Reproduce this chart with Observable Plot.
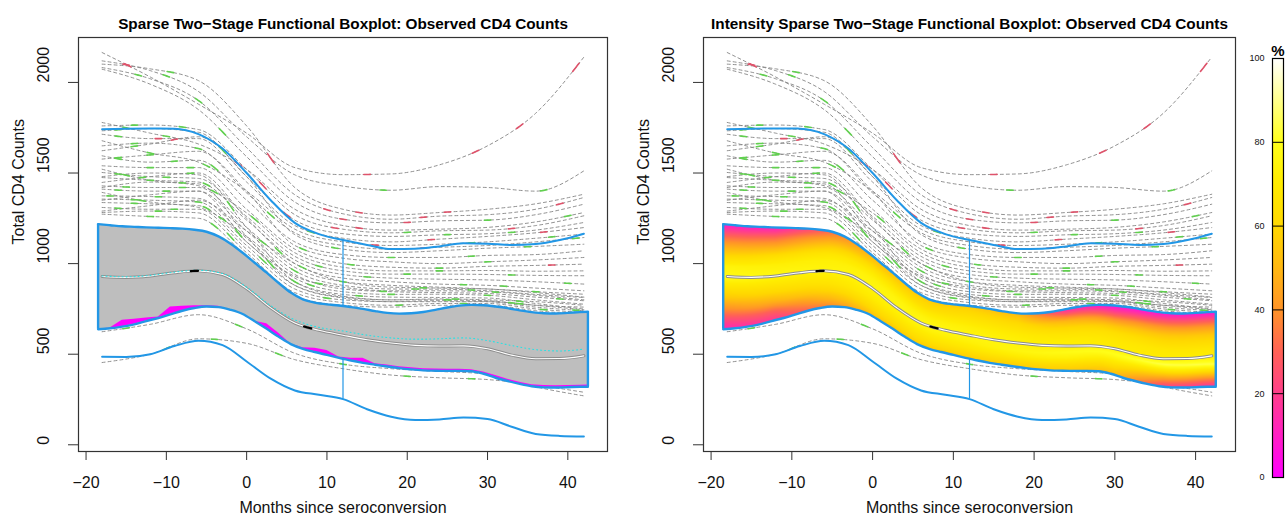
<!DOCTYPE html>
<html><head><meta charset="utf-8">
<script src="https://cdn.jsdelivr.net/npm/d3@7"></script>
<script src="https://cdn.jsdelivr.net/npm/@observablehq/plot@0.6"></script>
<style>
body{margin:0;background:#fff;}
#wrap{position:relative;width:1287px;height:519px;overflow:hidden;}
#wrap > div{position:absolute;top:0;}
</style></head><body>
<div id="wrap"><div id="p1" style="left:0px"></div><div id="p2" style="left:640px"></div><div id="p3" style="left:1240px"></div></div>
<script>
// ---------- text & ticks ----------
const titles = ["Sparse Two\u2212Stage Functional Boxplot: Observed CD4 Counts",
                "Intensity Sparse Two\u2212Stage Functional Boxplot: Observed CD4 Counts"];
const xLabel = "Months since seroconversion";
const yLabel = "Total CD4 Counts";
const xTicks = [-20, -10, 0, 10, 20, 30, 40];
const yTicks = [0, 500, 1000, 1500, 2000];
const legendTicks = [0, 20, 40, 60, 80, 100];
const legendBreaks = [20, 40, 60, 80];
const xDomain = [-20.94, 44.94];
const yDomain = [-37, 2248];

// ---------- central region (box) ----------
const boxX = [-18.5,-17,-15.5,-14,-12.5,-11,-9.5,-8,-6.5,-5,-3.5,-2,-0.5,1,2.5,4,5.5,7,8.5,10,11.5,13,14.5,16,17.5,19,20.5,22,23.5,25,26.5,28,29.5,31,32.5,34,35.5,37,38.5,40,41.5,42.5];
const boxLow = [638,643,652,665,683,700,720,740,755,763,760,745,722,682,640,596,556,530,512,496,480,465,452,442,432,423,416,411,409,408,408,406,392,370,352,336,323,317,316,318,320,320];
const boxHigh = [1218,1212,1206,1203,1200,1198,1196,1193,1187,1176,1150,1110,1060,1005,950,893,840,803,785,775,769,760,750,738,728,724,726,733,745,758,768,772,770,763,754,742,732,726,725,728,732,734];
const magentaTop = [638,645,688,693,700,706,760,765,767,768,765,745,722,682,668,615,556,535,533,520,485,478,478,447,440,431,425,420,418,417,417,414,402,382,362,345,332,327,326,327,329,330];

// ---------- whiskers, median, mean ----------
const wX = [-18,-15,-12,-9,-6,-3,0,3,6,9,12,15,18,21,24,27,30,33,36,39,42];
const upperWhisker = [1742,1745,1746,1745,1715,1635,1500,1350,1225,1163,1130,1103,1080,1082,1095,1112,1110,1103,1108,1130,1165];
const lowerWhisker = [486,485,500,545,574,550,460,365,300,276,252,196,155,137,140,150,142,100,60,49,46];
const medianCurve = [929,924,932,950,960,940,862,756,672,632,605,580,562,549,545,546,530,495,475,476,491];
const meanCurve = [932,927,935,953,963,945,870,768,690,648,628,605,590,583,585,590,575,548,525,518,528];
const medianObs = [-6.5, 7.6];
const connectorX = 12;

// ---------- individual fitted curves ----------
const cX = [-18,-12,-6,0,6,12,18,24,30,36,42];
const curveVals = [
 [2165,2030,1880,1720,1530,1491,1495,1545,1650,1830,2140],
 [2119,2065,1950,1700,1490,1428,1405,1425,1420,1400,1512],
 [2101,2075,2010,1760,1420,1300,1268,1282,1300,1330,1383],
 [2082,2020,1900,1640,1380,1275,1245,1262,1270,1300,1365],
 [2073,1990,1850,1590,1340,1245,1225,1236,1240,1270,1328],
 [1779,1720,1660,1520,1300,1210,1185,1190,1200,1230,1282],
 [1760,1765,1740,1520,1270,1190,1170,1181,1185,1210,1264],
 [1733,1745,1725,1480,1240,1165,1150,1159,1165,1185,1227],
 [1714,1690,1690,1450,1210,1140,1120,1135,1150,1170,1199],
 [1678,1610,1560,1400,1190,1120,1100,1107,1120,1140,1163],
 [1650,1665,1635,1390,1170,1100,1080,1090,1100,1120,1144],
 [1623,1660,1700,1480,1160,1080,1061,1071,1085,1095,1107],
 [1595,1560,1570,1350,1120,1050,1034,1034,1045,1050,1071],
 [1577,1600,1620,1400,1100,1030,1010,1000,1010,1020,1034],
 [1540,1530,1530,1300,1080,1000,980,975,985,990,997],
 [1521,1460,1430,1280,1060,980,960,960,962,958,960],
 [1503,1480,1470,1260,1040,960,942,942,940,935,933],
 [1475,1460,1450,1240,1020,940,920,914,910,900,887],
 [1448,1480,1500,1250,1000,920,900,887,880,865,850],
 [1429,1420,1420,1200,980,900,880,870,860,845,831],
 [1411,1400,1400,1180,960,880,860,859,850,830,813],
 [1393,1340,1310,1150,940,860,845,840,835,815,795],
 [1374,1370,1360,1140,920,845,830,831,825,800,776],
 [1356,1350,1340,1120,900,830,815,813,810,780,749],
 [1337,1330,1320,1100,880,815,800,800,795,770,760],
 [1310,1300,1300,1080,860,800,790,795,790,760,740],
 [1282,1290,1280,1060,840,785,770,780,780,750,730],
 [1273,1260,1250,1040,820,770,760,770,770,740,720],
 [624,665,718,640,505,445,420,405,390,320,270],
 [454,500,585,560,470,420,385,370,360,330,290],
 [1480,1500,1490,1200,900,820,800,805,800,790,770],
 [1420,1450,1440,1150,880,810,790,790,790,770,745],
 [1350,1380,1400,1120,930,870,850,850,845,825,800],
 [1290,1320,1350,1180,1000,900,870,865,860,840,815]
];
// observed portions: [curve index, month, colour key]
const obs = [
 [0,-14.8,"r"],[0,15,"r"],[0,28.5,"r"],[0,34,"r"],[0,41,"r"],
 [1,-15,"r"],[1,-10,"g"],[1,17,"g"],[1,37,"g"],
 [2,-9.5,"g"],[2,3,"r"],[2,14,"r"],[2,25,"r"],
 [3,-13.5,"g"],[3,-6,"g"],[3,10,"r"],[3,22,"r"],[3,39,"r"],
 [4,-3,"g"],[4,12,"r"],[4,20,"r"],[4,30,"g"],
 [5,-15,"g"],[5,-10,"g"],[5,-1,"r"],[5,14,"r"],[5,40,"g"],
 [6,-14,"g"],[6,-8,"g"],[6,2,"r"],[6,11,"r"],[6,20,"g"],[6,33,"r"],
 [7,-16,"g"],[7,-3,"g"],[7,5,"r"],[7,25,"g"],[7,33,"g"],
 [8,-16,"g"],[8,-11,"r"],[8,8,"g"],[8,23,"r"],[8,37,"r"],
 [9,-12,"g"],[9,-5,"g"],[9,16,"r"],[9,28,"g"],[9,38,"g"],
 [10,-14,"g"],[10,-6,"g"],[10,3,"g"],[10,22,"r"],[10,41,"g"],
 [11,-14,"g"],[11,-9,"r"],[11,11,"g"],[11,35,"g"],
 [12,-16,"g"],[12,-9,"g"],[12,-4,"g"],[12,18,"g"],[12,28,"g"],
 [13,-16,"g"],[13,-12,"g"],[13,7,"g"],[13,30,"g"],
 [14,-12,"g"],[14,-7,"g"],[14,13,"g"],[14,24,"g"],[14,38,"r"],
 [15,-15,"g"],[15,-4,"g"],[15,1,"g"],[15,24,"g"],
 [16,-16,"g"],[16,-10,"g"],[16,9,"g"],[16,20,"g"],[16,33,"g"],
 [17,-12,"g"],[17,-5,"g"],[17,15,"g"],[17,40,"g"],
 [18,-13,"g"],[18,-7,"g"],[18,4,"g"],[18,27,"g"],[18,32,"g"],
 [19,-15,"g"],[19,-8,"g"],[19,12,"g"],[19,36,"g"],
 [20,-16,"g"],[20,-10,"g"],[20,6,"g"],[20,21,"g"],[20,28,"g"],
 [21,-13,"g"],[21,-3,"g"],[21,17,"g"],[21,39,"g"],
 [22,-17,"g"],[22,-11,"g"],[22,8,"g"],[22,18,"g"],[22,30,"g"],
 [23,-14,"g"],[23,-6,"g"],[23,14,"g"],[23,34,"g"],
 [24,-14,"g"],[24,-5,"g"],[24,2,"g"],[24,25,"g"],[24,33,"g"],
 [25,-16,"g"],[25,-9,"g"],[25,10,"g"],[25,41,"g"],
 [26,-11,"g"],[26,-2,"g"],[26,19,"g"],[26,27,"g"],[26,37,"g"],
 [27,-12,"g"],[27,-4,"g"],[27,5,"g"],[27,29,"g"],
 [28,-15,"g"],[28,-1,"g"],[28,12,"g"],[28,35,"g"],
 [29,-10,"g"],[29,-4,"g"],[29,4,"g"],[29,20,"g"],[29,28,"g"],
 [30,-2,"g"],[30,6,"g"],[30,26,"g"],
 [31,-8,"g"],[31,3,"g"],[31,34,"g"],
 [32,-1,"g"],[32,9,"g"],[32,31,"g"],
 [33,2,"g"],[33,7,"g"],[33,22,"g"]
];

// ---------- intensity (percent) inside the central region ----------
const intX = [-18.5,-12,-6,0,6,12,18,24,30,36,42.5];
const intT = [0,0.1,0.2,0.3,0.4,0.5,0.6,0.7,0.8,0.9,1];
const intensity = [
 [12,18,35,52,55,55,55,55,50,20,15],
 [25,30,48,60,62,62,62,62,60,40,35],
 [40,48,58,65,66,68,70,72,70,62,60],
 [55,60,65,70,70,72,75,78,80,84,84],
 [66,68,70,72,74,75,74,72,70,70,72],
 [78,76,74,75,76,74,72,70,68,68,68],
 [74,72,72,74,74,72,70,66,64,62,62],
 [60,62,66,70,70,68,66,60,55,55,55],
 [45,46,55,64,64,64,62,50,40,42,42],
 [28,30,42,56,60,60,56,32,22,25,25],
 [8,10,28,50,55,55,50,12,4,6,4]
];
const intensityDomain = [0,10,20,30,40,50,60,70,80,90,100];
const intensityRange = ["#FF00FF","#FF1FC4","#FF3F8C","#FF6256","#FF9428","#FFB812","#FFD800","#FFEC00","#FFFF1A","#FFFF8C","#FFFFFF"];

// ---------- colours ----------
const blue = "#2297E6", green = "#61D04F", red = "#DF536B", cyan = "#28E2E5";
const font = "'Liberation Sans', Arial, Helvetica, sans-serif";

// ---------- monotone-x evaluation (same as d3.curveMonotoneX) ----------
function tangents(xs, ys) {
  const n = xs.length, t = new Array(n);
  for (let i = 1; i < n - 1; i++) {
    const h0 = xs[i]-xs[i-1], h1 = xs[i+1]-xs[i];
    const s0 = (ys[i]-ys[i-1])/h0, s1 = (ys[i+1]-ys[i])/h1;
    const p = (s0*h1 + s1*h0)/(h0+h1);
    t[i] = ((s0<0?-1:1)+(s1<0?-1:1)) * Math.min(Math.abs(s0), Math.abs(s1), 0.5*Math.abs(p)) || 0;
  }
  t[0] = (3*(ys[1]-ys[0])/(xs[1]-xs[0]) - t[1])/2;
  t[n-1] = (3*(ys[n-1]-ys[n-2])/(xs[n-1]-xs[n-2]) - t[n-2])/2;
  return t;
}
function evaluator(xs, ys) {
  const t = tangents(xs, ys);
  return x => {
    let i = d3.bisectRight(xs, x) - 1;
    i = Math.max(0, Math.min(xs.length - 2, i));
    const h = xs[i+1]-xs[i], s = (x - xs[i])/h, u = 1 - s;
    const c1 = ys[i] + h/3*t[i], c2 = ys[i+1] - h/3*t[i+1];
    return u*u*u*ys[i] + 3*u*u*s*c1 + 3*u*s*s*c2 + s*s*s*ys[i+1];
  };
}
const evLow = evaluator(boxX, boxLow), evHigh = evaluator(boxX, boxHigh);
const evUpW = evaluator(wX, upperWhisker), evLoW = evaluator(wX, lowerWhisker);
const evMed = evaluator(wX, medianCurve);
const evCurves = curveVals.map(v => evaluator(cX, v));

// ---------- table rows built from the arrays ----------
const curveRows = curveVals.flatMap((v, id) => v.map((y, i) => ({id, x: cX[i], y})));
const obsRows = [];
obs.forEach(([ci, t, c], k) => {
  for (let j = 0; j <= 4; j++) { const x = t - 0.4 + j*0.2; obsRows.push({k, c, x, y: evCurves[ci](x)}); }
});
const boxRows = boxX.map((x, i) => ({x, lo: boxLow[i], hi: boxHigh[i], mag: magentaTop[i]}));
const wRows = wX.map((x, i) => ({x, up: upperWhisker[i], lo: lowerWhisker[i], med: medianCurve[i], mean: meanCurve[i]}));
const medObsRows = [];
medianObs.forEach((t, k) => { for (let j = 0; j <= 4; j++) { const x = t - 0.45 + j*0.225; medObsRows.push({k, x, y: evMed(x)}); } });
const sideRows = [0, boxX.length - 1].map(i => ({x: boxX[i], lo: boxLow[i], hi: boxHigh[i]}));
const connRows = [
  {x: connectorX, a: evHigh(connectorX), b: evUpW(connectorX)},
  {x: connectorX, a: evLoW(connectorX), b: evLow(connectorX)}
];

const cache = new Map();
function intensityAt(x, y) {
  if (x < boxX[0] || x > boxX[boxX.length-1]) return NaN;
  let b = cache.get(x);
  if (!b) { b = [evLow(x), evHigh(x)]; cache.set(x, b); }
  if (y < b[0] || y > b[1]) return NaN;
  const tt = (y - b[0])/(b[1]-b[0]);
  let j = d3.bisectRight(intX, x) - 1; j = Math.max(0, Math.min(intX.length-2, j));
  const fx = (x - intX[j])/(intX[j+1]-intX[j]);
  let k = Math.floor(tt*10); k = Math.max(0, Math.min(9, k));
  const fy = (tt - intT[k])/(intT[k+1]-intT[k]);
  const a = intensity[k][j]*(1-fx) + intensity[k][j+1]*fx;
  const c = intensity[k+1][j]*(1-fx) + intensity[k+1][j+1]*fx;
  return a*(1-fy) + c*fy;
}
const colorScale = {type: "linear", domain: intensityDomain, range: intensityRange, interpolate: "rgb"};
const fmt = d => d < 0 ? "\u2212" + Math.abs(d) : String(d);

function panel(isIntensity, width, mL, mR, title) {
  const marks = [
    Plot.line(curveRows, {x: "x", y: "y", z: "id", curve: "monotone-x", stroke: "#858585", strokeWidth: 0.9, strokeDasharray: "3,3"}),
    Plot.line(obsRows.filter(d => d.c === "g"), {x: "x", y: "y", z: "k", stroke: green, strokeWidth: 1.6}),
    Plot.line(obsRows.filter(d => d.c === "r"), {x: "x", y: "y", z: "k", stroke: red, strokeWidth: 1.6})
  ];
  if (isIntensity) {
    marks.push(Plot.raster({fill: intensityAt, x1: boxX[0], x2: boxX[boxX.length-1], y1: 300, y2: 1230, pixelSize: 1}));
  } else {
    marks.push(Plot.areaY(boxRows, {x: "x", y1: "lo", y2: "hi", curve: "monotone-x", fill: "#BEBEBE"}));
    marks.push(Plot.areaY(boxRows, {x: "x", y1: "lo", y2: "mag", curve: "linear", fill: "#FF00FF"}));
  }
  marks.push(
    Plot.line(wRows, {x: "x", y: "med", curve: "monotone-x", stroke: "#8c8c8c", strokeWidth: 3}),
    Plot.line(wRows, {x: "x", y: "med", curve: "monotone-x", stroke: "#ffffff", strokeWidth: 1.1})
  );
  if (!isIntensity) marks.push(Plot.line(wRows, {x: "x", y: "mean", curve: "monotone-x", stroke: cyan, strokeWidth: 1.1, strokeDasharray: "1,3"}));
  marks.push(
    Plot.line(medObsRows, {x: "x", y: "y", z: "k", stroke: "black", strokeWidth: 2.2}),
    Plot.line(boxRows, {x: "x", y: "hi", curve: "monotone-x", stroke: blue, strokeWidth: 2.4}),
    Plot.line(boxRows, {x: "x", y: "lo", curve: "monotone-x", stroke: blue, strokeWidth: 2.4}),
    Plot.ruleX(sideRows, {x: "x", y1: "lo", y2: "hi", stroke: blue, strokeWidth: 2.4}),
    Plot.line(wRows, {x: "x", y: "up", curve: "monotone-x", stroke: blue, strokeWidth: 2}),
    Plot.line(wRows, {x: "x", y: "lo", curve: "monotone-x", stroke: blue, strokeWidth: 2}),
    Plot.ruleX(connRows, {x: "x", y1: "a", y2: "b", stroke: blue, strokeWidth: 1.2}),
    Plot.frame({stroke: "#333", strokeWidth: 1.2}),
    Plot.axisX({ticks: xTicks, tickSize: 9, tickFormat: () => "", stroke: "#333", label: null}),
    Plot.axisY({ticks: yTicks, tickSize: 10, tickFormat: () => "", stroke: "#333", label: null}),
    Plot.text(xTicks, {x: d => d, text: fmt, frameAnchor: "bottom", dy: 36, fontSize: 16, fill: "#111"}),
    Plot.text(yTicks, {y: d => d, text: d => String(d), frameAnchor: "left", dx: -35, rotate: -90, fontSize: 16, fill: "#111"}),
    Plot.text([xLabel], {text: d => d, frameAnchor: "bottom", dy: 61, fontSize: 16, fill: "#111"}),
    Plot.text([yLabel], {text: d => d, frameAnchor: "left", dx: -60, rotate: -90, fontSize: 16, fill: "#111"}),
    Plot.text([title], {text: d => d, frameAnchor: "top", dy: -19, fontSize: 15.3, fontWeight: "bold", fill: "#000"})
  );
  return Plot.plot({
    width, height: 519, marginLeft: mL, marginRight: mR, marginTop: 37, marginBottom: 68,
    x: {domain: xDomain}, y: {domain: yDomain},
    color: isIntensity ? colorScale : undefined,
    style: {background: "transparent", fontFamily: font, overflow: "visible"},
    marks
  });
}

document.getElementById("p1").appendChild(panel(false, 640, 78, 33, titles[0]));
document.getElementById("p2").appendChild(panel(true, 600, 63, 5, titles[1]));
document.getElementById("p3").appendChild(Plot.plot({
  width: 47, height: 519, marginLeft: 32, marginRight: 4, marginTop: 58, marginBottom: 42,
  x: {domain: [0, 1], axis: null}, y: {domain: [0, 100], axis: null},
  color: colorScale,
  style: {background: "transparent", fontFamily: font, overflow: "visible"},
  marks: [
    Plot.raster({fill: (x, y) => y, x1: 0, x2: 1, y1: 0, y2: 100, pixelSize: 1}),
    Plot.ruleY(legendBreaks, {stroke: "#000", strokeWidth: 1}),
    Plot.frame({stroke: "#000", strokeWidth: 1.2}),
    Plot.text(legendTicks, {y: d => d, text: d => String(d), frameAnchor: "left", dx: -8, textAnchor: "end", fontSize: 9, fill: "#111"}),
    Plot.text(["%"], {text: d => d, frameAnchor: "top", dy: -13, fontSize: 15, fontWeight: "bold", fill: "#000"})
  ]
}));
</script>
</body></html>
